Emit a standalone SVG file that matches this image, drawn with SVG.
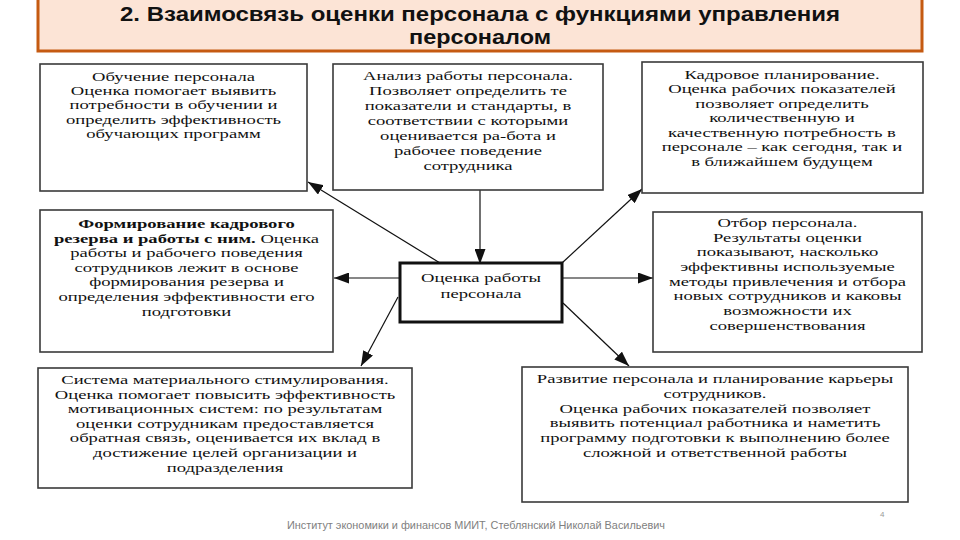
<svg xmlns="http://www.w3.org/2000/svg" width="960" height="540" viewBox="0 0 960 540">
<style>
.box{fill:#fff;stroke:#3a3a3a;stroke-width:1.6}
.center{fill:#fff;stroke:#111;stroke-width:3}
.t{font-family:"Liberation Serif","Times New Roman",serif;font-size:13.2px;fill:#111;text-anchor:middle}
.title{font-family:"Liberation Sans",Arial,sans-serif;font-size:20px;font-weight:bold;fill:#111;text-anchor:middle}
.con{stroke:#111;stroke-width:1.2;fill:none}
</style>
<defs>
<marker id="ah" markerUnits="userSpaceOnUse" markerWidth="16" markerHeight="11" refX="15" refY="5.5" orient="auto">
<path d="M0,0 L15,5.5 L0,11 z" fill="#111"/>
</marker>
</defs>
<rect width="960" height="540" fill="#fff"/>
<g id="title">
<rect x="38" y="-5" width="884" height="56" fill="#fce4d6" stroke="#c55a11" stroke-width="3"/>
<text class="title" x="480" y="21" textLength="720" lengthAdjust="spacingAndGlyphs">2. Взаимосвязь оценки персонала с функциями управления</text>
<text class="title" x="480" y="44" textLength="142" lengthAdjust="spacingAndGlyphs">персоналом</text>
</g>
<g id="connectors">
<line class="con" x1="440" y1="263" x2="308" y2="182" marker-end="url(#ah)"/>
<line class="con" x1="480" y1="190" x2="480" y2="264" marker-end="url(#ah)"/>
<line class="con" x1="562" y1="263" x2="642" y2="189" marker-end="url(#ah)"/>
<line class="con" x1="400" y1="278" x2="334" y2="278" marker-end="url(#ah)"/>
<line class="con" x1="562" y1="278" x2="653" y2="278" marker-end="url(#ah)"/>
<line class="con" x1="398" y1="297" x2="361" y2="366" marker-end="url(#ah)"/>
<line class="con" x1="563" y1="303" x2="629" y2="366" marker-end="url(#ah)"/>
</g>
<g id="n-training">
<rect class="box" x="40" y="64" width="267" height="127"/>
<g transform="translate(173.5 0) scale(1.41 1)">
<text class="t" x="0" y="81">Обучение персонала</text>
<text class="t" x="0" y="95">Оценка помогает выявить</text>
<text class="t" x="0" y="109.5">потребности в обучении и</text>
<text class="t" x="0" y="124">определить эффективность</text>
<text class="t" x="0" y="138">обучающих программ</text>
</g>
</g>
<g id="n-analysis">
<rect class="box" x="333" y="64" width="270" height="126"/>
<g transform="translate(468 0) scale(1.41 1)">
<text class="t" x="0" y="80.5">Анализ работы персонала.</text>
<text class="t" x="0" y="95.5">Позволяет определить те</text>
<text class="t" x="0" y="110.5">показатели и стандарты, в</text>
<text class="t" x="0" y="125.5">соответствии с которыми</text>
<text class="t" x="0" y="140.5">оценивается ра-бота и</text>
<text class="t" x="0" y="155.5">рабочее поведение</text>
<text class="t" x="0" y="170.5">сотрудника</text>
</g>
</g>
<g id="n-planning">
<rect class="box" x="642" y="62" width="281" height="131"/>
<g transform="translate(782 0) scale(1.41 1)">
<text class="t" x="0" y="79">Кадровое планирование.</text>
<text class="t" x="0" y="93.5">Оценка рабочих показателей</text>
<text class="t" x="0" y="108">позволяет определить</text>
<text class="t" x="0" y="122.5">количественную и</text>
<text class="t" x="0" y="137">качественную потребность в</text>
<text class="t" x="0" y="151.5">персонале – как сегодня, так и</text>
<text class="t" x="0" y="166">в ближайшем будущем</text>
</g>
</g>
<g id="n-reserve">
<rect class="box" x="40" y="210" width="293" height="142"/>
<g transform="translate(186.5 0) scale(1.41 1)">
<text class="t" x="0" y="228" font-weight="bold">Формирование кадрового</text>
<text class="t" x="0" y="242.6"><tspan font-weight="bold">резерва и работы с ним.</tspan> Оценка</text>
<text class="t" x="0" y="257.2">работы и рабочего поведения</text>
<text class="t" x="0" y="271.8">сотрудников лежит в основе</text>
<text class="t" x="0" y="286.4">формирования резерва и</text>
<text class="t" x="0" y="301">определения эффективности его</text>
<text class="t" x="0" y="315.6">подготовки</text>
</g>
</g>
<g id="n-center">
<rect class="center" x="400" y="263" width="162" height="59"/>
<g transform="translate(481 0) scale(1.41 1)">
<text class="t" x="0" y="282">Оценка работы</text>
<text class="t" x="0" y="298">персонала</text>
</g>
</g>
<g id="n-selection">
<rect class="box" x="653" y="212" width="269" height="140"/>
<g transform="translate(787.5 0) scale(1.41 1)">
<text class="t" x="0" y="227">Отбор персонала.</text>
<text class="t" x="0" y="241.7">Результаты оценки</text>
<text class="t" x="0" y="256.4">показывают, насколько</text>
<text class="t" x="0" y="271.1">эффективны используемые</text>
<text class="t" x="0" y="285.8">методы привлечения и отбора</text>
<text class="t" x="0" y="300.5">новых сотрудников и каковы</text>
<text class="t" x="0" y="315.2">возможности их</text>
<text class="t" x="0" y="329.9">совершенствования</text>
</g>
</g>
<g id="n-motivation">
<rect class="box" x="38" y="368" width="374" height="120"/>
<g transform="translate(225 0) scale(1.41 1)">
<text class="t" x="0" y="384">Система материального стимулирования.</text>
<text class="t" x="0" y="398.6">Оценка помогает повысить эффективность</text>
<text class="t" x="0" y="413.2">мотивационных систем: по результатам</text>
<text class="t" x="0" y="427.8">оценки сотрудникам предоставляется</text>
<text class="t" x="0" y="442.4">обратная связь, оценивается их вклад в</text>
<text class="t" x="0" y="457">достижение целей организации и</text>
<text class="t" x="0" y="471.6">подразделения</text>
</g>
</g>
<g id="n-development">
<rect class="box" x="522" y="367" width="386" height="135"/>
<g transform="translate(715 0) scale(1.41 1)">
<text class="t" x="0" y="383">Развитие персонала и планирование карьеры</text>
<text class="t" x="0" y="397.8">сотрудников.</text>
<text class="t" x="0" y="412.6">Оценка рабочих показателей позволяет</text>
<text class="t" x="0" y="427.4">выявить потенциал работника и наметить</text>
<text class="t" x="0" y="442.2">программу подготовки к выполнению более</text>
<text class="t" x="0" y="457">сложной и ответственной работы</text>
</g>
</g>
<g id="footer">
<text x="287" y="529" font-family="'Liberation Sans',Arial,sans-serif" font-size="10.5" fill="#808080" textLength="378" lengthAdjust="spacingAndGlyphs">Институт экономики и финансов МИИТ, Стеблянский Николай Васильевич</text>
<text x="880" y="517" font-family="'Liberation Sans',Arial,sans-serif" font-size="8" fill="#999">4</text>
</g>
</svg>
